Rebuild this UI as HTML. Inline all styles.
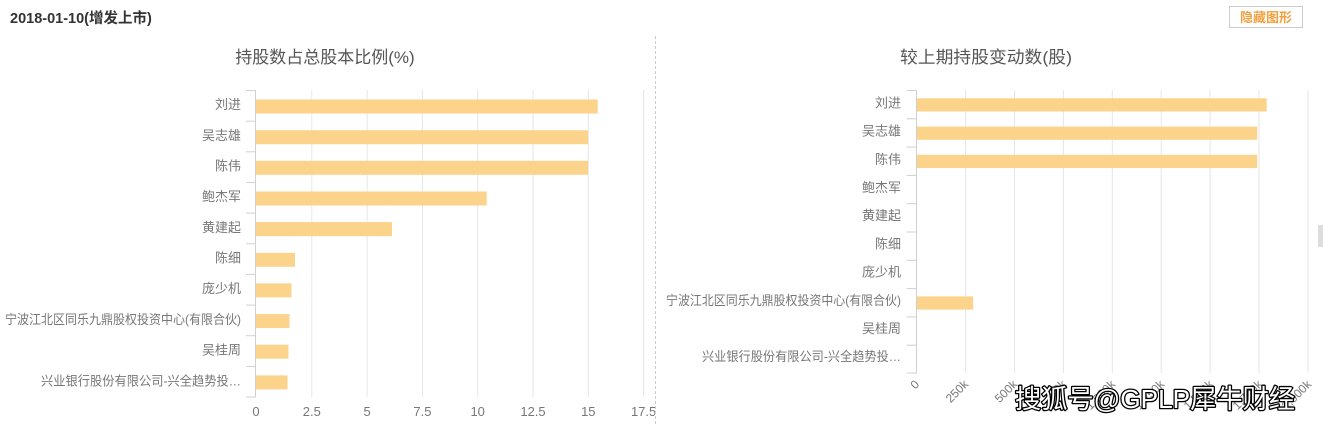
<!DOCTYPE html>
<html><head><meta charset="utf-8"><style>
html,body{margin:0;padding:0;background:#fff;}
svg{display:block;font-family:"Liberation Sans","Noto Sans CJK SC",sans-serif;}
</style></head><body>
<svg width="1323" height="425" viewBox="0 0 1323 425" xmlns="http://www.w3.org/2000/svg">
<rect width="1323" height="425" fill="#fff"/>
<text x="10" y="23" font-size="14.5" font-weight="bold" fill="#333">2018-01-10(增发上市)</text>
<rect x="1229.5" y="6.5" width="73" height="21" fill="#fff" stroke="#ccc"/>
<text x="1266" y="22" font-size="13" font-weight="bold" fill="#f0a040" text-anchor="middle">隐藏图形</text>
<rect x="1318" y="225" width="5" height="22" fill="#ddd"/>
<line x1="655.5" y1="36" x2="655.5" y2="425" stroke="#ccc" stroke-dasharray="3,2"/>

<defs><clipPath id="lc"><rect x="0" y="0" width="655" height="425"/></clipPath></defs>
<g clip-path="url(#lc)">
<text x="325" y="63" font-size="17" fill="#555" text-anchor="middle">持股数占总股本比例(%)</text>
<g stroke="#e6e6e6" stroke-width="1">
<line x1="311.8" y1="90" x2="311.8" y2="397"/>
<line x1="367.1" y1="90" x2="367.1" y2="397"/>
<line x1="422.4" y1="90" x2="422.4" y2="397"/>
<line x1="477.7" y1="90" x2="477.7" y2="397"/>
<line x1="533" y1="90" x2="533" y2="397"/>
<line x1="588.3" y1="90" x2="588.3" y2="397"/>
<line x1="643.6" y1="90" x2="643.6" y2="397"/>
</g>
<g fill="#fbd38b">
<rect x="256" y="99.5" width="341.7" height="14"/>
<rect x="256" y="130.2" width="332" height="14"/>
<rect x="256" y="160.8" width="332" height="14"/>
<rect x="256" y="191.5" width="230.7" height="14"/>
<rect x="256" y="222.1" width="136" height="14"/>
<rect x="256" y="252.8" width="39" height="14"/>
<rect x="256" y="283.4" width="35.5" height="14"/>
<rect x="256" y="314.1" width="33.5" height="14"/>
<rect x="256" y="344.7" width="32.5" height="14"/>
<rect x="256" y="375.4" width="31.5" height="14"/>
</g>
<g stroke="#d0d0d0" stroke-width="1">
<line x1="255.5" y1="90" x2="255.5" y2="397.5"/>
<line x1="246" y1="90.5" x2="256" y2="90.5"/>
<line x1="246" y1="121.2" x2="256" y2="121.2"/>
<line x1="246" y1="151.8" x2="256" y2="151.8"/>
<line x1="246" y1="182.5" x2="256" y2="182.5"/>
<line x1="246" y1="213.1" x2="256" y2="213.1"/>
<line x1="246" y1="243.8" x2="256" y2="243.8"/>
<line x1="246" y1="274.4" x2="256" y2="274.4"/>
<line x1="246" y1="305.1" x2="256" y2="305.1"/>
<line x1="246" y1="335.7" x2="256" y2="335.7"/>
<line x1="246" y1="366.4" x2="256" y2="366.4"/>
<line x1="246" y1="397" x2="256" y2="397"/>
</g>
<g font-size="13" fill="#777" text-anchor="end">
<text x="241" y="109">刘进</text>
<text x="241" y="140">吴志雄</text>
<text x="241" y="170.5">陈伟</text>
<text x="241" y="201">鲍杰军</text>
<text x="241" y="232">黄建起</text>
<text x="241" y="262.5">陈细</text>
<text x="241" y="293">庞少机</text>
<text x="241" y="324" textLength="236" lengthAdjust="spacingAndGlyphs">宁波江北区同乐九鼎股权投资中心(有限合伙)</text>
<text x="241" y="354.5">吴桂周</text>
<text x="241" y="385.5" textLength="200" lengthAdjust="spacingAndGlyphs">兴业银行股份有限公司-兴全趋势投…</text>
</g>
<g font-size="13" fill="#777" text-anchor="middle">
<text x="256" y="416">0</text>
<text x="311.8" y="416">2.5</text>
<text x="367.1" y="416">5</text>
<text x="422.4" y="416">7.5</text>
<text x="477.7" y="416">10</text>
<text x="533" y="416">12.5</text>
<text x="588.3" y="416">15</text>
<text x="643.6" y="416">17.5</text>
</g>
</g>

<text x="986" y="63" font-size="17" fill="#555" text-anchor="middle" textLength="172" lengthAdjust="spacingAndGlyphs">较上期持股变动数(股)</text>
<g stroke="#e6e6e6" stroke-width="1">
<line x1="965.6" y1="90" x2="965.6" y2="373"/>
<line x1="1014.5" y1="90" x2="1014.5" y2="373"/>
<line x1="1063.4" y1="90" x2="1063.4" y2="373"/>
<line x1="1112.3" y1="90" x2="1112.3" y2="373"/>
<line x1="1161.2" y1="90" x2="1161.2" y2="373"/>
<line x1="1210.1" y1="90" x2="1210.1" y2="373"/>
<line x1="1259" y1="90" x2="1259" y2="373"/>
<line x1="1307.9" y1="90" x2="1307.9" y2="373"/>
</g>
<g fill="#fbd38b">
<rect x="916.7" y="98.3" width="350" height="13.2"/>
<rect x="916.7" y="126.6" width="340.5" height="13.2"/>
<rect x="916.7" y="154.9" width="340.5" height="13.2"/>
<rect x="916.7" y="296.4" width="56.5" height="13.2"/>
</g>
<g stroke="#d0d0d0" stroke-width="1">
<line x1="916.5" y1="90" x2="916.5" y2="373.5"/>
<line x1="906.7" y1="90.5" x2="916.7" y2="90.5"/>
<line x1="906.7" y1="118.8" x2="916.7" y2="118.8"/>
<line x1="906.7" y1="147.1" x2="916.7" y2="147.1"/>
<line x1="906.7" y1="175.4" x2="916.7" y2="175.4"/>
<line x1="906.7" y1="203.7" x2="916.7" y2="203.7"/>
<line x1="906.7" y1="232" x2="916.7" y2="232"/>
<line x1="906.7" y1="260.3" x2="916.7" y2="260.3"/>
<line x1="906.7" y1="288.6" x2="916.7" y2="288.6"/>
<line x1="906.7" y1="316.9" x2="916.7" y2="316.9"/>
<line x1="906.7" y1="345.2" x2="916.7" y2="345.2"/>
<line x1="906.7" y1="373" x2="916.7" y2="373"/>
</g>
<g font-size="13" fill="#777" text-anchor="end">
<text x="901" y="107.5">刘进</text>
<text x="901" y="135.5">吴志雄</text>
<text x="901" y="164">陈伟</text>
<text x="901" y="192">鲍杰军</text>
<text x="901" y="220">黄建起</text>
<text x="901" y="248.5">陈细</text>
<text x="901" y="276.5">庞少机</text>
<text x="901" y="305" textLength="235" lengthAdjust="spacingAndGlyphs">宁波江北区同乐九鼎股权投资中心(有限合伙)</text>
<text x="901" y="333">吴桂周</text>
<text x="901" y="361" textLength="199" lengthAdjust="spacingAndGlyphs">兴业银行股份有限公司-兴全趋势投…</text>
</g>
<g font-size="12" fill="#777" text-anchor="end">
<text transform="translate(920,385) rotate(-45)">0</text>
<text transform="translate(969,385) rotate(-45)">250k</text>
<text transform="translate(1018,385) rotate(-45)">500k</text>
<text transform="translate(1067,385) rotate(-45)">750k</text>
<text transform="translate(1116,385) rotate(-45)">1,000k</text>
<text transform="translate(1165,385) rotate(-45)">1,250k</text>
<text transform="translate(1214,385) rotate(-45)">1,500k</text>
<text transform="translate(1263,385) rotate(-45)">1,750k</text>
<text transform="translate(1312,385) rotate(-45)">2,000k</text>
</g>
<text x="1015" y="408" font-size="26" fill="#fff" stroke="#000" stroke-width="2.6" paint-order="stroke" stroke-linejoin="round" textLength="280" lengthAdjust="spacingAndGlyphs">搜狐号@GPLP犀牛财经</text>
</svg>
</body></html>
